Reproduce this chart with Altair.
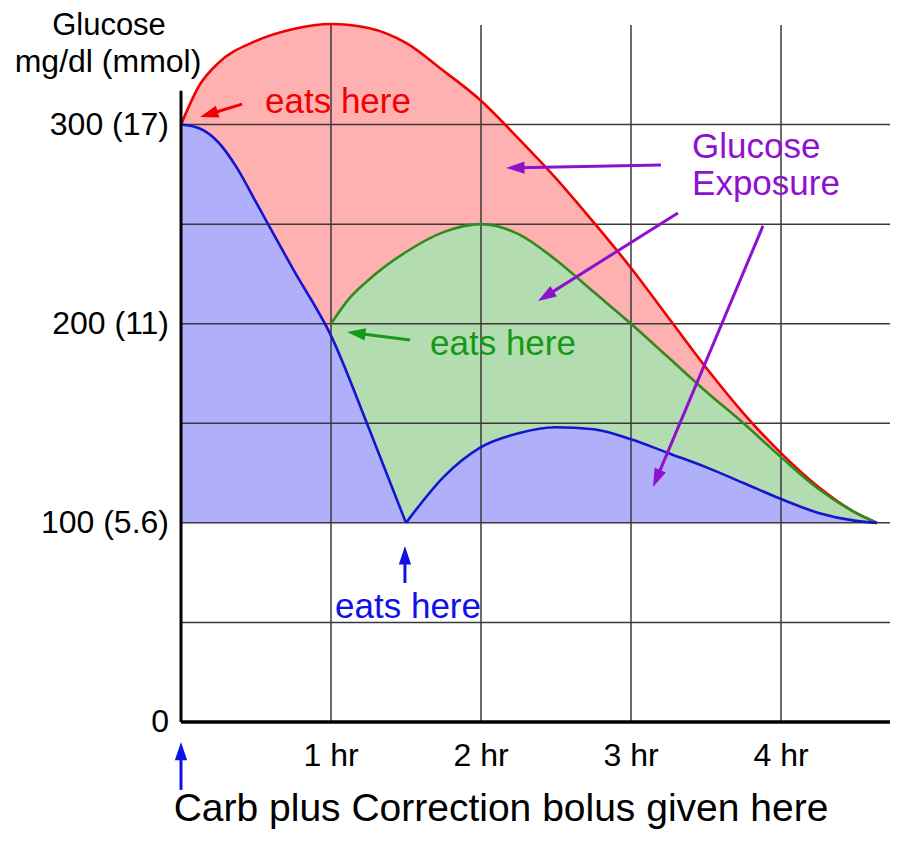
import math
import altair as alt
import pandas as pd

# ---------------- data ----------------
red_hours = [0, 0.125, 0.25, 0.5, 0.75, 1.0, 1.25, 1.5, 1.75, 2.0, 2.25, 2.5,
             2.75, 3.0, 3.25, 3.5, 3.75, 4.0, 4.25, 4.5, 4.64]
red_glucose = [300, 320, 331, 342, 348, 350.5, 348.5, 341, 327, 312, 293, 273,
               251, 228, 203, 178, 155, 135, 118, 105, 100]

green_hours = [1.0, 1.125, 1.25, 1.5, 1.75, 2.0, 2.25, 2.5, 2.75, 3.0, 3.25,
               3.5, 3.75, 4.0, 4.25, 4.5, 4.64]
green_glucose = [200, 213, 222, 236, 246, 250, 245, 232, 216, 200, 183,
                 166, 150, 133, 117, 105, 100]

blue_fall_hours = [0, 0.125, 0.25, 0.375, 0.5, 0.75, 1.0, 1.25, 1.5]
blue_fall_glucose = [300, 298, 291, 278, 261, 227, 194, 148, 100]
blue_rise_hours = [1.5, 1.75, 2.0, 2.25, 2.5, 2.75, 3.0, 3.25, 3.5, 3.75, 4.0,
                   4.25, 4.5, 4.64]
blue_rise_glucose = [100, 123, 138, 145, 148, 147, 142, 135, 128, 120, 112,
                     105, 101, 100]

x_tick_values = [1, 2, 3, 4]
x_tick_labels = ["1 hr", "2 hr", "3 hr", "4 hr"]
y_tick_values = [0, 100, 200, 300]
y_tick_labels = ["0", "100 (5.6)", "200 (11)", "300 (17)"]
grid_hours = [1, 2, 3, 4]
grid_glucose = [50, 100, 150, 200, 250, 300]

ann_text = ["eats here", "eats here", "eats here", "Glucose", "Exposure"]
ann_hour = [0.56, 1.66, 1.027, 3.407, 3.407]
ann_glucose = [306, 184.4, 52.3, 283.4, 264.8]
ann_color = ["#F00000", "#159A15", "#1010E8", "#9010D0", "#9010D0"]

arrow_x0 = [0.407, 1.527, 1.493, 0.0, 3.2, 3.313, 3.88]
arrow_y0 = [310.3, 191.8, 69.8, -34.1, 279.7, 255.6, 249.1]
arrow_x1 = [0.127, 1.107, 1.493, 0.0, 2.167, 2.38, 3.147]
arrow_y1 = [303.8, 195.8, 88.4, -10.0, 278.2, 211.4, 118.0]
arrow_color = ["#F00000", "#159A15", "#1010E8", "#1010E8", "#9010D0", "#9010D0", "#9010D0"]

# ---------------- layout ----------------
W, H = 709, 697
XMAX, YMAX = W / 150.0, 350
FONT = "Liberation Sans, Arial, Helvetica, sans-serif"
X = alt.Scale(domain=[0, XMAX], nice=False, zero=False)
Y = alt.Scale(domain=[0, YMAX], nice=False, zero=False)

def series(h, g, name, seg):
    return pd.DataFrame({"hour": h, "glucose": g, "series": name, "segment": seg})

curves = pd.concat([
    series(red_hours, red_glucose, "red", "r"),
    series(green_hours, green_glucose, "green", "g"),
    series(blue_fall_hours, blue_fall_glucose, "blue", "b1"),
    series(blue_rise_hours, blue_rise_glucose, "blue", "b2"),
], ignore_index=True)

base = alt.Chart(curves)

def area(name, fill):
    return base.transform_filter(alt.datum.series == name).mark_area(
        interpolate="monotone", color=fill, opacity=1
    ).encode(
        x=alt.X("hour:Q", scale=X),
        y=alt.Y("glucose:Q", scale=Y),
        y2=alt.Y2Datum(100),
        detail="segment:N",
    )

def line(name, stroke):
    return base.transform_filter(alt.datum.series == name).mark_line(
        interpolate="monotone", color=stroke, strokeWidth=2.6
    ).encode(
        x=alt.X("hour:Q", scale=X),
        y=alt.Y("glucose:Q", scale=Y),
        detail="segment:N",
    )

grid_color = "#3a3a3a"
vgrid = alt.Chart(pd.DataFrame({"hour": grid_hours})).mark_rule(
    color=grid_color, strokeWidth=1.5
).encode(x=alt.X("hour:Q", scale=X), y=alt.YDatum(0, scale=Y), y2=alt.Y2Datum(YMAX))

hgrid = alt.Chart(pd.DataFrame({"glucose": grid_glucose})).mark_rule(
    color=grid_color, strokeWidth=1.5
).encode(y=alt.Y("glucose:Q", scale=Y), x=alt.XDatum(0, scale=X), x2=alt.X2Datum(XMAX))

yaxis_line = alt.Chart(pd.DataFrame({"a": [0]})).mark_rule(
    color="black", strokeWidth=3
).encode(x=alt.XDatum(0, scale=X), y=alt.YDatum(0, scale=Y), y2=alt.Y2Datum(317))

xaxis_line = alt.Chart(pd.DataFrame({"a": [0]})).mark_rule(
    color="black", strokeWidth=3.5
).encode(y=alt.YDatum(0, scale=Y), x=alt.XDatum(0, scale=X), x2=alt.X2Datum(XMAX))

xlabels = alt.Chart(pd.DataFrame({"hour": x_tick_values, "label": x_tick_labels})).mark_text(
    font=FONT, fontSize=32, color="black", align="center", baseline="middle"
).encode(x=alt.X("hour:Q", scale=X), y=alt.value(H + 34), text="label:N")

ylabels = alt.Chart(pd.DataFrame({"glucose": y_tick_values, "label": y_tick_labels})).mark_text(
    font=FONT, fontSize=32, color="black", align="right", baseline="middle"
).encode(y=alt.Y("glucose:Q", scale=Y), x=alt.value(-12), text="label:N")

ann = alt.Chart(pd.DataFrame({"hour": ann_hour, "glucose": ann_glucose,
                              "text": ann_text, "color": ann_color})).mark_text(
    font=FONT, fontSize=35, align="left", baseline="alphabetic"
).encode(x=alt.X("hour:Q", scale=X), y=alt.Y("glucose:Q", scale=Y),
         text="text:N", color=alt.Color("color:N", scale=None))

# arrows: shaft + rotated triangular head
pph, ppu = W / XMAX, H / YMAX
rows = []
for x0, y0, x1, y1, c in zip(arrow_x0, arrow_y0, arrow_x1, arrow_y1, arrow_color):
    dx = (x1 - x0) * pph
    dy = -(y1 - y0) * ppu
    L = math.hypot(dx, dy)
    ang = math.degrees(math.atan2(dx, -dy)) % 360
    xe = x1 - 12 * dx / L / pph
    ye = y1 + 12 * dy / L / ppu
    rows.append({"x0": x0, "y0": y0, "xe": xe, "ye": ye, "x1": x1, "y1": y1,
                 "angle": ang, "color": c})
arrows = pd.DataFrame(rows)

shafts = alt.Chart(arrows).mark_rule(strokeWidth=3).encode(
    x=alt.X("x0:Q", scale=X), y=alt.Y("y0:Q", scale=Y),
    x2="xe:Q", y2="ye:Q", color=alt.Color("color:N", scale=None))

heads = alt.Chart(arrows).mark_point(
    shape="M0,0 L0.6,1.8 L-0.6,1.8 Z", filled=True, opacity=1, size=420, strokeWidth=0
).encode(x=alt.X("x1:Q", scale=X), y=alt.Y("y1:Q", scale=Y),
         angle=alt.Angle("angle:Q", scale=None),
         color=alt.Color("color:N", scale=None))

title1 = alt.Chart(pd.DataFrame({"t": ["Glucose"]})).mark_text(
    font=FONT, fontSize=31, align="center", baseline="alphabetic", color="black"
).encode(x=alt.value(-72), y=alt.value(10), text="t:N")
title2 = alt.Chart(pd.DataFrame({"t": ["mg/dl (mmol)"]})).mark_text(
    font=FONT, fontSize=32, align="center", baseline="alphabetic", color="black"
).encode(x=alt.value(-73), y=alt.value(47), text="t:N")
bottom = alt.Chart(pd.DataFrame({"t": ["Carb plus Correction bolus given here"]})).mark_text(
    font=FONT, fontSize=39, align="center", baseline="alphabetic", color="black"
).encode(x=alt.value(320), y=alt.value(H + 99), text="t:N")

chart = alt.layer(
    area("red", "#FFB0B0"),
    area("green", "#B3DDB0"),
    area("blue", "#B0B0FA"),
    vgrid, hgrid,
    line("red", "#F00000"),
    line("green", "#2F8A1F"),
    line("blue", "#1414D2"),
    yaxis_line, xaxis_line,
    xlabels, ylabels, ann, shafts, heads, title1, title2, bottom,
).properties(
    width=W, height=H,
    autosize=alt.AutoSizeParams(type="none"),
    padding={"left": 173, "top": 17, "right": 0, "bottom": 108},
    background="white",
).configure_view(stroke=None).configure_axis(disable=True)

chart.save("out.html", embed_options={"renderer": "svg", "actions": False})
